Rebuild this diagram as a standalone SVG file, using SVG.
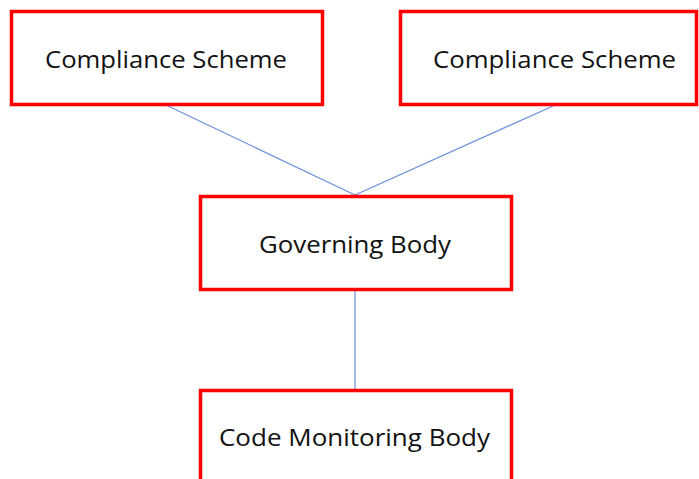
<svg xmlns="http://www.w3.org/2000/svg" width="699" height="479" viewBox="0 0 699 479">
<style>
.box{fill:#fff;stroke:#ff0000;stroke-width:3.5}
.lbl{font-family:"Open Sans","Liberation Sans",sans-serif;font-size:23px;fill:#111;text-anchor:middle}
.con{stroke:#6f93dc;stroke-width:1.3;fill:none}
</style>
<rect width="699" height="479" fill="#fff"/>
<g id="connectors">
<line class="con" x1="168" y1="106" x2="355" y2="195"/>
<line class="con" x1="553" y1="106" x2="355" y2="195"/>
<line class="con" x1="355" y1="290" x2="355" y2="389"/>
</g>
<g id="cs1">
<rect class="box" x="11.5" y="11.5" width="311" height="93"/>
<text class="lbl" x="166" y="68" textLength="242" lengthAdjust="spacingAndGlyphs">Compliance Scheme</text>
</g>
<g id="cs2">
<rect class="box" x="400.5" y="11.5" width="296" height="93"/>
<text class="lbl" x="554.5" y="68" textLength="243" lengthAdjust="spacingAndGlyphs">Compliance Scheme</text>
</g>
<g id="gov">
<rect class="box" x="200.5" y="196.5" width="311" height="93"/>
<text class="lbl" x="355" y="253" textLength="192" lengthAdjust="spacingAndGlyphs">Governing Body</text>
</g>
<g id="cmb">
<rect class="box" x="200.5" y="390.5" width="311" height="100"/>
<text class="lbl" x="354.5" y="446" textLength="271" lengthAdjust="spacingAndGlyphs">Code Monitoring Body</text>
</g>
</svg>
